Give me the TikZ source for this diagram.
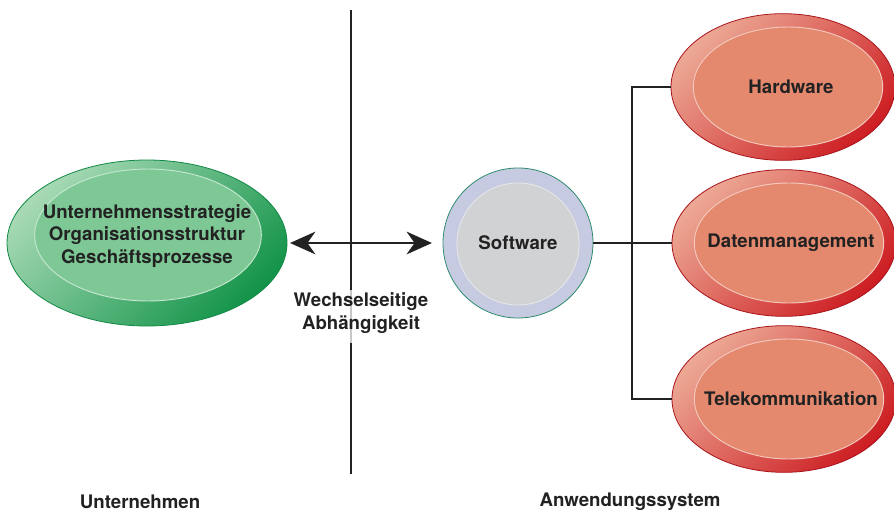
\documentclass[tikz,border=0pt]{standalone}
\usepackage{fontspec}
\setmainfont{TeX Gyre Heros}
\usetikzlibrary{positioning,shapes.geometric,arrows.meta}

\definecolor{grlight}{HTML}{A6D9B4}
\definecolor{grdark}{HTML}{14944A}
\definecolor{grin}{HTML}{7EC896}
\definecolor{grline}{HTML}{128A45}
\definecolor{rdlight}{HTML}{ECA894}
\definecolor{rddark}{HTML}{CD1E23}
\definecolor{rdin}{HTML}{E4886E}
\definecolor{rdline}{HTML}{A8141C}
\definecolor{swring}{HTML}{C6CBE2}
\definecolor{swin}{HTML}{D1D2D4}
\definecolor{swline}{HTML}{2E8B6E}
\definecolor{ink}{HTML}{222222}

\tikzset{
  label/.style={font=\fontsize{14}{17}\selectfont\bfseries, text=ink, align=center, inner sep=0pt},
  ringgreen/.style={ellipse, draw=grline, line width=0.6pt, top color=grlight,
    bottom color=grdark, shading angle=45, minimum width=210pt, minimum height=124.5pt},
  coregreen/.style={ellipse, fill=grin, draw=white!55!grin, line width=0.7pt,
    inner sep=0pt, minimum width=170pt, minimum height=99pt},
  ringred/.style={ellipse, draw=rdline, line width=0.6pt, top color=rdlight,
    bottom color=rddark, shading angle=45, minimum width=168pt, minimum height=110pt},
  corered/.style={ellipse, fill=rdin, draw=white!55!rdin, line width=0.7pt,
    inner sep=0pt, minimum width=142pt, minimum height=90pt},
  link/.style={draw=ink, line width=1.5pt},
  divider/.style={line width=1.6pt}
}

\begin{document}
\begin{tikzpicture}[x=0.75pt,y=-0.75pt]
\useasboundingbox (0,0) rectangle (894,511);

% Unternehmen
\node[ringgreen] (strat) at (147,243) {};
\node[coregreen] (stratin) at (148,235) {};
\node[label] (strattext) at (147,236) {Unternehmensstrategie\\Organisationsstruktur\\Geschäftsprozesse};

% Software
\node[circle, fill=swring, draw=swline, line width=0.6pt, minimum size=112.5pt] (soft) at (518,243) {};
\node[circle, fill=swin, draw=white!50!swin, line width=0.6pt, minimum size=91.5pt] (softin) at (518,244) {};
\node[label] (softtext) at (518,243) {Software};

% Anwendungssystem
\node[ringred] (hw) at (783,87) {};
\node[corered] (hwin) at (788,87) {};
\node[label] (hwtext) at (791,87) {Hardware};
\node[ringred] (dm) at (784,243) {};
\node[corered] (dmin) at (789,243) {};
\node[label] (dmtext) at (791,243) {Datenmanagement};
\node[ringred] (tk) at (784,399) {};
\node[corered] (tkin) at (789,399) {};
\node[label] (tktext) at (791,399) {Telekommunikation};

% Trennlinie
\coordinate (divtop) at (351,10);
\coordinate (divgap) at (351,290);
\coordinate (divgapend) at (351,343);
\coordinate (divbot) at (351,474);
\draw[divider, ink] (divtop) -- (divgap);
\draw[divider, black!22] (divgap) -- (divgapend);
\draw[divider, ink] (divgapend) -- (divbot);

% Wechselwirkung
\draw[link, line width=1.8pt, {Stealth[length=19pt,width=17pt,inset=6pt]}-{Stealth[length=19pt,width=17pt,inset=6pt]},
  shorten <=2pt, shorten >=8pt] (strat.east) -- (soft.west);
\node[label] (wechsel) at (361,313) {Wechselseitige\\Abhängigkeit};

% Verzweigung
\coordinate (fork) at (632,243);
\draw[link] (soft.east) -- (dm.west);
\draw[link] (hw.west) -| (fork) |- (tk.west);

% Beschriftung unten
\node[label] (unt) at (140,502) {Unternehmen};
\node[label] (anw) at (630,502) {Anwendungssystem};
\end{tikzpicture}
\end{document}
